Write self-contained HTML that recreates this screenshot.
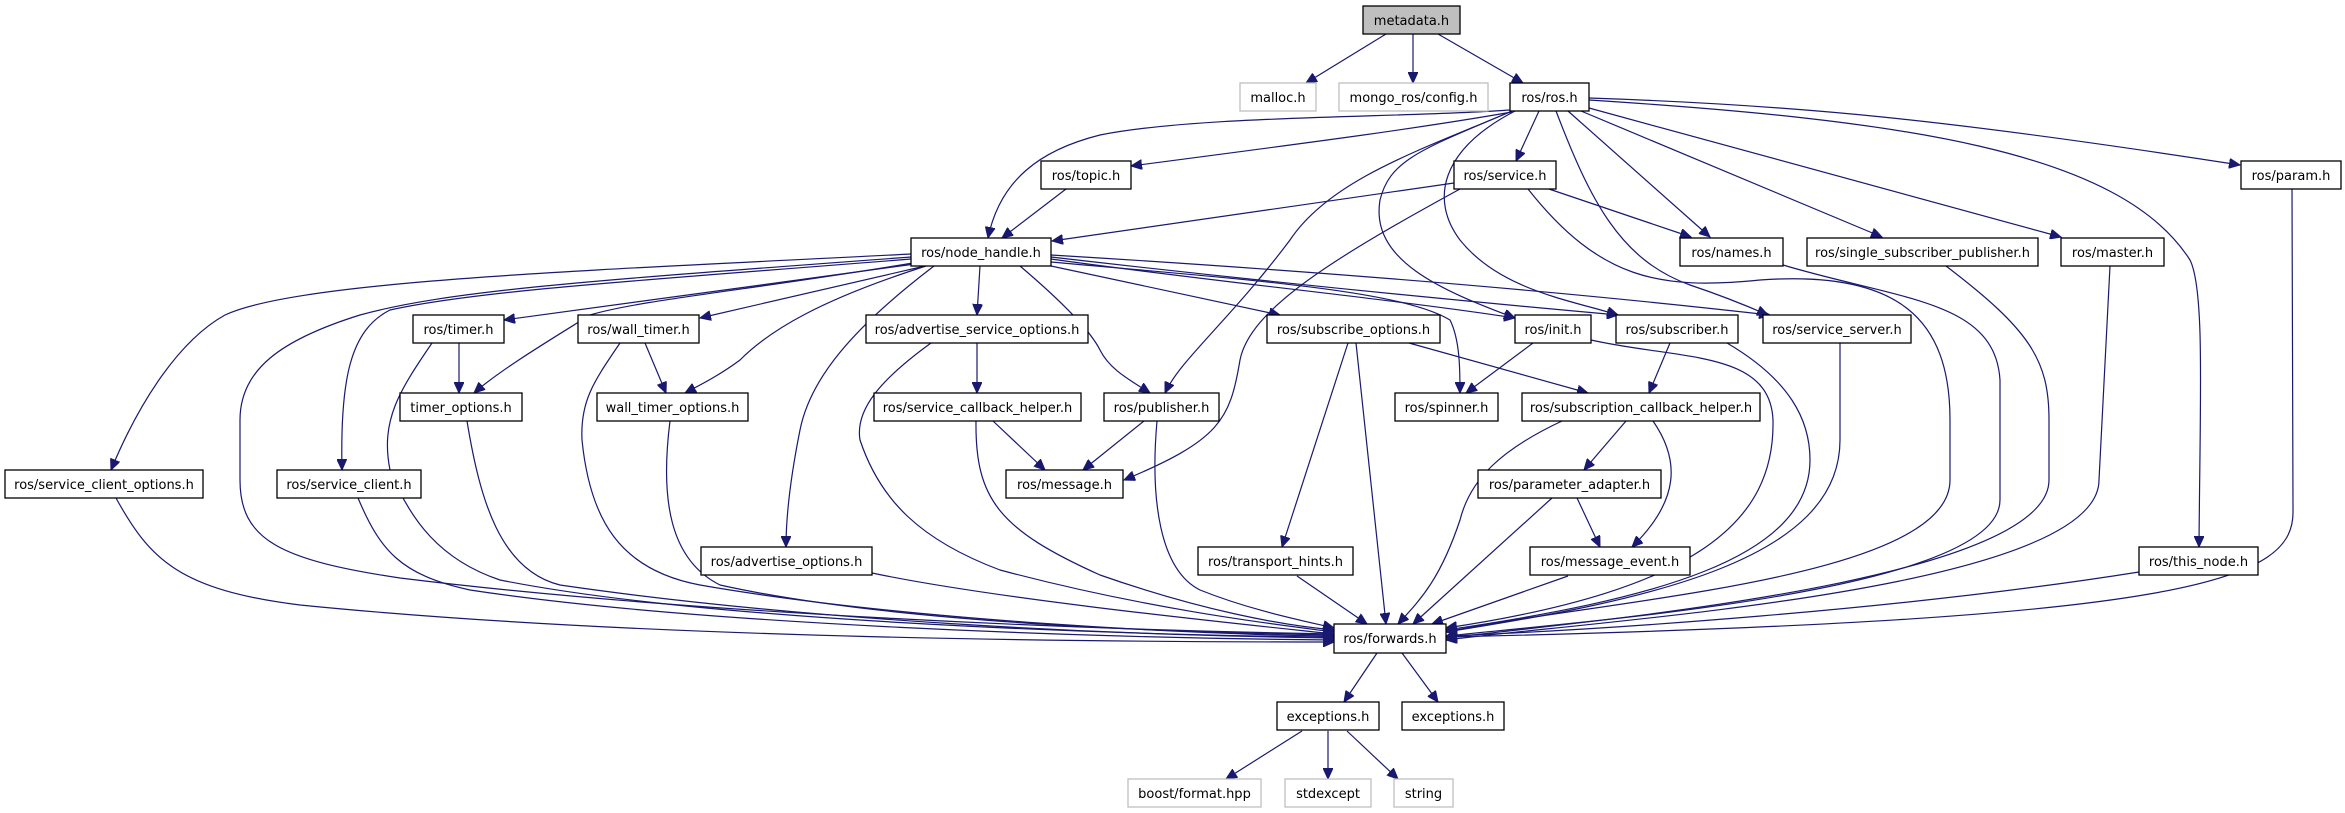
<!DOCTYPE html>
<html><head><meta charset="utf-8"><style>
html,body{margin:0;padding:0;background:#fff;}
svg{display:block;}
text{font-family:"DejaVu Sans","Liberation Sans",sans-serif;font-size:13px;fill:#000;text-anchor:middle;}
.e{fill:none;stroke:#191970;stroke-width:1.2;marker-end:url(#a);}
.n{fill:#fff;stroke:#000;stroke-width:1.3;}
.g{fill:#fff;stroke:#bfbfbf;stroke-width:1.3;}
</style></head><body>
<svg width="2345" height="813" viewBox="0 0 2345 813" xmlns="http://www.w3.org/2000/svg">
<defs><marker id="a" markerUnits="userSpaceOnUse" markerWidth="12" markerHeight="10" refX="11" refY="5" orient="auto"><path d="M0,0 L11,5 L0,10 z" fill="#191970" stroke="#191970"/></marker></defs>
<g>
<path class="e" d="M1386,34 L1306,83"/>
<path class="e" d="M1413,34 L1413,83"/>
<path class="e" d="M1438,34 L1523,83"/>
<path class="e" d="M1510,110 C1400,118 1200,115 1100,135 C1040,150 1000,180 988,238"/>
<path class="e" d="M1512,112 C1420,128 1330,140 1131,166"/>
<path class="e" d="M1539,111 L1516,161"/>
<path class="e" d="M1510,112 C1420,150 1330,180 1290,240 C1230,320 1180,360 1165,393"/>
<path class="e" d="M1512,111 C1420,150 1390,160 1380,200 C1370,260 1440,290 1515,318"/>
<path class="e" d="M1515,111 C1440,150 1430,200 1460,240 C1500,290 1570,300 1618,315"/>
<path class="e" d="M1556,111 C1590,200 1620,260 1690,285 C1720,295 1745,305 1768,315"/>
<path class="e" d="M1568,111 L1710,237"/>
<path class="e" d="M1581,111 L1882,237"/>
<path class="e" d="M1589,108 L2061,237"/>
<path class="e" d="M1589,98 C1800,105 1950,120 2240,165"/>
<path class="e" d="M1589,100 C1900,120 2120,150 2190,260 C2205,290 2200,400 2199,547"/>
<path class="e" d="M1454,183 L1052,241"/>
<path class="e" d="M1066,189 L1002,238"/>
<path class="e" d="M1546,188 L1691,237"/>
<path class="e" d="M1460,189 C1330,260 1250,310 1240,360 C1230,420 1220,440 1124,480"/>
<path class="e" d="M1528,189 C1600,280 1660,290 1760,280 C1900,270 1950,320 1950,420 L1950,480 C1950,580 1600,600 1446,632"/>
<path class="e" d="M1783,265 C1900,300 1995,300 2000,380 L2000,500 C2000,590 1600,620 1446,636"/>
<path class="e" d="M1946,266 C2030,330 2049,360 2049,420 L2049,480 C2049,580 1600,620 1446,638"/>
<path class="e" d="M2110,266 L2099,480 C2099,590 1600,620 1446,640"/>
<path class="e" d="M2292,189 L2293,510 C2295,580 2200,620 1446,637"/>
<path class="e" d="M2139,572 C1900,610 1600,630 1446,636"/>
<path class="e" d="M1533,343 L1466,393"/>
<path class="e" d="M1591,340 C1680,360 1770,350 1773,420 C1775,520 1700,590 1446,628"/>
<path class="e" d="M1670,343 L1649,393"/>
<path class="e" d="M1727,343 C1790,380 1810,420 1810,460 C1810,560 1650,600 1446,630"/>
<path class="e" d="M1840,343 L1840,440 C1840,560 1650,600 1446,632"/>
<path class="e" d="M1626,421 L1584,470"/>
<path class="e" d="M1653,421 C1680,460 1680,500 1632,547"/>
<path class="e" d="M1562,421 C1500,450 1470,480 1460,520 C1440,580 1420,600 1398,624"/>
<path class="e" d="M1577,498 L1600,547"/>
<path class="e" d="M1552,498 L1413,624"/>
<path class="e" d="M1568,576 L1432,624"/>
<path class="e" d="M1297,576 L1367,624"/>
<path class="e" d="M1348,343 L1282,547"/>
<path class="e" d="M1356,343 L1386,624"/>
<path class="e" d="M1409,343 L1588,393"/>
<path class="e" d="M1144,421 L1083,470"/>
<path class="e" d="M1157,421 C1150,500 1160,570 1200,590 C1250,610 1300,620 1334,628"/>
<path class="e" d="M993,421 L1045,470"/>
<path class="e" d="M976,421 C975,500 1000,530 1100,575 C1200,610 1280,625 1334,630"/>
<path class="e" d="M977,343 L977,393"/>
<path class="e" d="M931,343 C880,380 855,410 860,440 C880,500 920,540 1000,570 C1150,610 1280,625 1334,632"/>
<path class="e" d="M872,573 C1000,600 1250,625 1334,634"/>
<path class="e" d="M645,343 L666,393"/>
<path class="e" d="M620,343 C595,380 580,400 582,440 C590,520 620,570 700,585 C900,620 1200,635 1334,636"/>
<path class="e" d="M670,421 C660,500 670,560 720,585 C900,625 1200,633 1334,635"/>
<path class="e" d="M459,343 L459,393"/>
<path class="e" d="M432,343 C400,390 380,420 390,470 C410,520 440,560 500,580 C700,620 1100,635 1334,637"/>
<path class="e" d="M467,421 C480,500 500,570 560,585 C800,620 1100,635 1334,638"/>
<path class="e" d="M358,498 C380,550 400,575 470,590 C700,625 1100,638 1334,640"/>
<path class="e" d="M116,498 C150,560 180,590 300,605 C600,635 1000,642 1334,642"/>
<path class="e" d="M911,257 C600,280 450,290 360,315 C280,340 240,370 240,420 L240,480 C240,540 280,560 400,578 C700,615 1100,630 1334,634"/>
<path class="e" d="M911,254 C600,270 300,280 225,315 C180,340 140,400 111,470"/>
<path class="e" d="M911,259 C650,280 480,290 390,310 C350,330 340,380 342,470"/>
<path class="e" d="M915,264 L504,320"/>
<path class="e" d="M913,263 C750,290 640,300 590,315 C550,340 500,370 474,393"/>
<path class="e" d="M925,266 L700,318"/>
<path class="e" d="M926,266 C820,300 770,330 740,360 C720,375 700,385 685,393"/>
<path class="e" d="M934,266 C850,330 810,380 800,430 C790,480 786,520 786,547"/>
<path class="e" d="M980,266 L977,315"/>
<path class="e" d="M1020,266 C1060,300 1090,330 1100,350 C1110,370 1130,380 1150,393"/>
<path class="e" d="M1051,266 L1280,315"/>
<path class="e" d="M1051,259 C1200,280 1400,300 1515,318"/>
<path class="e" d="M1051,257 C1250,280 1450,300 1618,315"/>
<path class="e" d="M1051,255 C1300,270 1550,290 1770,315"/>
<path class="e" d="M1051,262 C1250,280 1400,290 1450,320 C1460,340 1460,370 1460,393"/>
<path class="e" d="M1377,653 L1344,702"/>
<path class="e" d="M1402,653 L1438,702"/>
<path class="e" d="M1302,731 L1226,779"/>
<path class="e" d="M1328,731 L1328,779"/>
<path class="e" d="M1347,731 L1398,779"/>
</g>
<g>
<rect x="1363" y="6" width="97" height="28" fill="#bfbfbf" stroke="#000" stroke-width="1.3"/><text x="1411.5" y="25">metadata.h</text>
<rect class="g" x="1240" y="83" width="76" height="28"/><text x="1278" y="102">malloc.h</text>
<rect class="g" x="1339" y="83" width="149" height="28"/><text x="1413.5" y="102">mongo_ros/config.h</text>
<rect class="n" x="1510" y="83" width="79" height="28"/><text x="1549.5" y="102">ros/ros.h</text>
<rect class="n" x="1041" y="161" width="90" height="28"/><text x="1086" y="180">ros/topic.h</text>
<rect class="n" x="1454" y="161" width="102" height="28"/><text x="1505" y="180">ros/service.h</text>
<rect class="n" x="2241" y="161" width="100" height="28"/><text x="2291" y="180">ros/param.h</text>
<rect class="n" x="911" y="238" width="140" height="28"/><text x="981" y="257">ros/node_handle.h</text>
<rect class="n" x="1680" y="238" width="103" height="28"/><text x="1731.5" y="257">ros/names.h</text>
<rect class="n" x="1807" y="238" width="231" height="28"/><text x="1922.5" y="257">ros/single_subscriber_publisher.h</text>
<rect class="n" x="2061" y="238" width="103" height="28"/><text x="2112.5" y="257">ros/master.h</text>
<rect class="n" x="413" y="315" width="91" height="28"/><text x="458.5" y="334">ros/timer.h</text>
<rect class="n" x="578" y="315" width="121" height="28"/><text x="638.5" y="334">ros/wall_timer.h</text>
<rect class="n" x="866" y="315" width="222" height="28"/><text x="977" y="334">ros/advertise_service_options.h</text>
<rect class="n" x="1267" y="315" width="173" height="28"/><text x="1353.5" y="334">ros/subscribe_options.h</text>
<rect class="n" x="1515" y="315" width="76" height="28"/><text x="1553" y="334">ros/init.h</text>
<rect class="n" x="1616" y="315" width="122" height="28"/><text x="1677" y="334">ros/subscriber.h</text>
<rect class="n" x="1763" y="315" width="148" height="28"/><text x="1837" y="334">ros/service_server.h</text>
<rect class="n" x="400" y="393" width="122" height="28"/><text x="461" y="412">timer_options.h</text>
<rect class="n" x="597" y="393" width="151" height="28"/><text x="672.5" y="412">wall_timer_options.h</text>
<rect class="n" x="874" y="393" width="207" height="28"/><text x="977.5" y="412">ros/service_callback_helper.h</text>
<rect class="n" x="1104" y="393" width="115" height="28"/><text x="1161.5" y="412">ros/publisher.h</text>
<rect class="n" x="1395" y="393" width="103" height="28"/><text x="1446.5" y="412">ros/spinner.h</text>
<rect class="n" x="1522" y="393" width="238" height="28"/><text x="1641" y="412">ros/subscription_callback_helper.h</text>
<rect class="n" x="5" y="470" width="198" height="28"/><text x="104" y="489">ros/service_client_options.h</text>
<rect class="n" x="277" y="470" width="144" height="28"/><text x="349" y="489">ros/service_client.h</text>
<rect class="n" x="1006" y="470" width="117" height="28"/><text x="1064.5" y="489">ros/message.h</text>
<rect class="n" x="1478" y="470" width="183" height="28"/><text x="1569.5" y="489">ros/parameter_adapter.h</text>
<rect class="n" x="701" y="547" width="171" height="28"/><text x="786.5" y="566">ros/advertise_options.h</text>
<rect class="n" x="1198" y="547" width="155" height="28"/><text x="1275.5" y="566">ros/transport_hints.h</text>
<rect class="n" x="1530" y="547" width="160" height="28"/><text x="1610" y="566">ros/message_event.h</text>
<rect class="n" x="2139" y="547" width="119" height="28"/><text x="2198.5" y="566">ros/this_node.h</text>
<rect class="n" x="1334" y="624" width="112" height="29"/><text x="1390" y="643">ros/forwards.h</text>
<rect class="n" x="1277" y="702" width="102" height="28"/><text x="1328" y="721">exceptions.h</text>
<rect class="n" x="1402" y="702" width="102" height="28"/><text x="1453" y="721">exceptions.h</text>
<rect class="g" x="1128" y="779" width="133" height="28"/><text x="1194.5" y="798">boost/format.hpp</text>
<rect class="g" x="1285" y="779" width="86" height="28"/><text x="1328" y="798">stdexcept</text>
<rect class="g" x="1394" y="779" width="59" height="28"/><text x="1423.5" y="798">string</text>
</g>
</svg>
</body></html>
